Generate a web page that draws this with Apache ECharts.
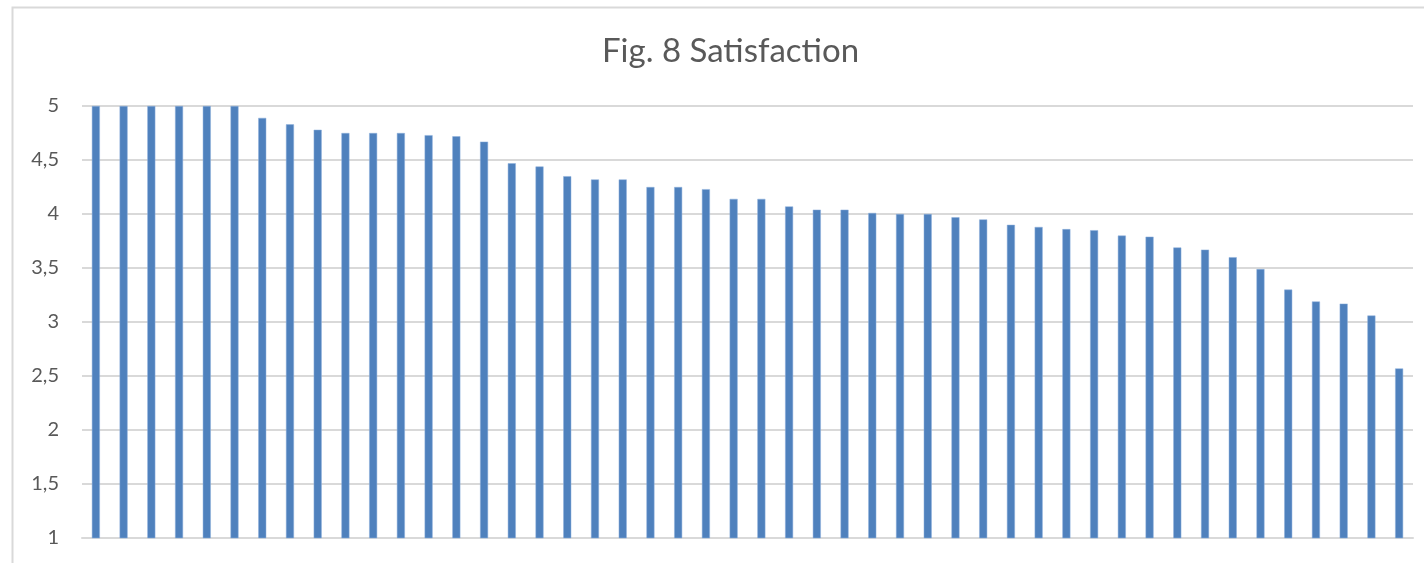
<!DOCTYPE html>
<html>
<head>
<meta charset="utf-8">
<title>Fig. 8 Satisfaction</title>
<script src="https://cdn.jsdelivr.net/npm/echarts@6/dist/echarts.min.js"></script>
<style>
  html, body { margin: 0; padding: 0; background: #fff; }
  #chart { width: 1424px; height: 563px; }
</style>
</head>
<body>
<div id="chart"></div>
<script>
// categories are just respondents / items 1..48, no labels shown
const categories = ['1', '2', '3', '4', '5', '6', '7', '8', '9', '10', '11', '12',
  '13', '14', '15', '16', '17', '18', '19', '20', '21', '22', '23', '24',
  '25', '26', '27', '28', '29', '30', '31', '32', '33', '34', '35', '36',
  '37', '38', '39', '40', '41', '42', '43', '44', '45', '46', '47', '48']

const satisfaction = [5, 5, 5, 5, 5, 5, 4.89, 4.83, 4.78, 4.75, 4.75, 4.75,
  4.73, 4.72, 4.67, 4.47, 4.44, 4.35, 4.32, 4.32, 4.25, 4.25, 4.23, 4.14,
  4.14, 4.07, 4.04, 4.04, 4.01, 4.0, 4.0, 3.97, 3.95, 3.9, 3.88, 3.86,
  3.85, 3.8, 3.79, 3.69, 3.67, 3.6, 3.49, 3.3, 3.19, 3.17, 3.06, 2.57]

const titleText = 'Fig. 8 Satisfaction'

const mychart = echarts.init(document.getElementById('chart'))
const option = {
  animation: false,
  title: {
    text: titleText,
    left: 597,
    top: 30,
    textStyle: {
      fontFamily: 'Lato',
      fontWeight: 'normal',
      fontSize: 33,
      color: '#595959'
    }
  },
  // light frame like the spreadsheet chart area
  graphic: [{
    type: 'rect',
    shape: { x: 12.5, y: 7.5, width: 1500, height: 700 },
    style: { fill: 'none', stroke: '#d9d9d9', lineWidth: 2 },
    silent: true
  }],
  grid: {
    left: 82,
    right: 11,
    top: 106,
    bottom: 25
  },
  xAxis: {
    type: 'category',
    data: categories,
    axisTick: { show: false },
    axisLabel: { show: false },
    axisLine: { lineStyle: { color: '#d9d9d9', width: 2 } }
  },
  yAxis: {
    type: 'value',
    min: 1,
    max: 5,
    interval: 0.5,
    axisLine: { show: false },
    axisTick: { show: false },
    axisLabel: {
      margin: 23,
      fontFamily: 'Lato',
      fontSize: 20,
      color: '#595959',
      formatter: v => String(v).replace('.', ',')
    },
    splitLine: { lineStyle: { color: '#d9d9d9', width: 2 } }
  },
  series: [{
    type: 'bar',
    data: satisfaction,
    barWidth: 8,
    itemStyle: {
      color: '#4f81bd',
      borderColor: '#8eb0dc',
      borderWidth: 0.5
    }
  }]
}
mychart.setOption(option)
</script>
</body>
</html>
